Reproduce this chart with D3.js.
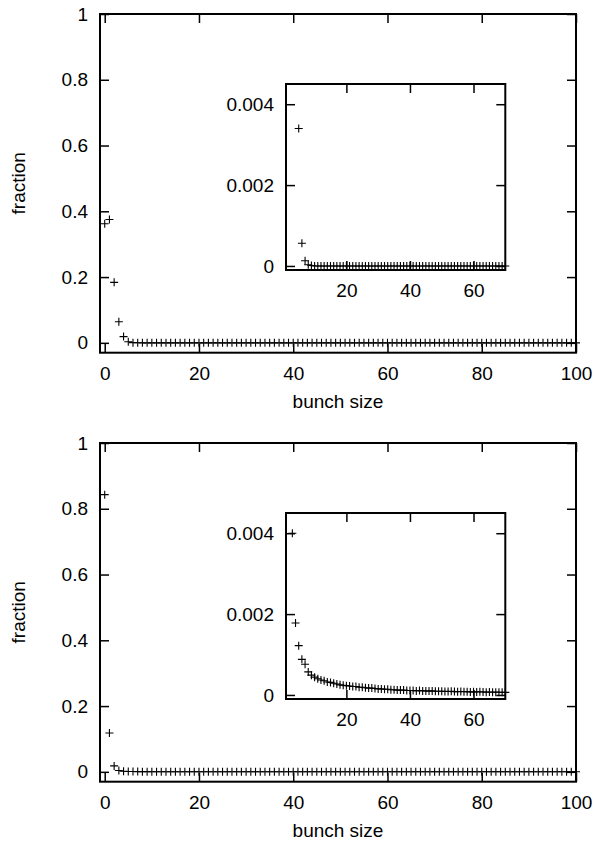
<!DOCTYPE html>
<html lang="en">
  <head>
    <meta charset="UTF-8" />
    <title>bunch size</title>
    <style>
      body { margin: 0; background: #fff; }
      svg text { font-family: "Liberation Sans", Arial, sans-serif; font-size: 19px; fill: #000; }
    </style>
  </head>
  <body>
    <svg id="svg" width="596" height="844"></svg>

    <script src="https://d3js.org/d3.v7.min.js"></script>
    <script>
      // fraction of bunches for bunch size 0..100 (index = bunch size)
      const topFraction = [
        0.362, 0.375, 0.184, 0.064, 0.019, 0.0034, 0.00056, 0.00013, 0.00003, 0.00001,
        0, 0, 0, 0, 0, 0, 0, 0, 0, 0,
        0, 0, 0, 0, 0, 0, 0, 0, 0, 0,
        0, 0, 0, 0, 0, 0, 0, 0, 0, 0,
        0, 0, 0, 0, 0, 0, 0, 0, 0, 0,
        0, 0, 0, 0, 0, 0, 0, 0, 0, 0,
        0, 0, 0, 0, 0, 0, 0, 0, 0, 0,
        0, 0, 0, 0, 0, 0, 0, 0, 0, 0,
        0, 0, 0, 0, 0, 0, 0, 0, 0, 0,
        0, 0, 0, 0, 0, 0, 0, 0, 0, 0,
        0
      ];
      const bottomFraction = [
        0.843, 0.118, 0.018, 0.0040, 0.00178, 0.00122, 0.00088, 0.00076, 0.00057, 0.00049,
        0.00044, 0.00040, 0.00037, 0.00035, 0.00032, 0.00031, 0.00029, 0.00027, 0.00025, 0.00024,
        0.00023, 0.00022, 0.00021, 0.00021, 0.00019, 0.00019, 0.00018, 0.00017, 0.00017, 0.00016,
        0.00015, 0.00015, 0.00014, 0.00014, 0.00013, 0.00013, 0.00012, 0.00012, 0.00012, 0.00011,
        0.00011, 0.00011, 0.00010, 0.00011, 0.00010, 0.00010, 0.000095, 0.00010, 0.000092, 0.000090,
        0.000092, 0.000088, 0.000085, 0.000090, 0.000083, 0.000080, 0.000084, 0.000078, 0.000080, 0.000076,
        0.000077, 0.000074, 0.000078, 0.000072, 0.000070, 0.000074, 0.000068, 0.000070, 0.000066, 0.000068,
        0.000065, 0.000064, 0.000066, 0.000062, 0.000060, 0.000063, 0.000058, 0.000060, 0.000057, 0.000059,
        0.000056, 0.000055, 0.000057, 0.000053, 0.000054, 0.000052, 0.000051, 0.000053, 0.000050, 0.000049,
        0.000050, 0.000048, 0.000047, 0.000049, 0.000046, 0.000045, 0.000046, 0.000044, 0.000043, 0.000044,
        0.000042
      ];

      const xTicksMain = [0, 20, 40, 60, 80, 100];
      const yTicksMain = [0, 0.2, 0.4, 0.6, 0.8, 1];
      const xTicksInset = [20, 40, 60];
      const yTicksInset = [0, 0.002, 0.004];

      const fmt = (d) => String(d);
      const plus = "M-4,0H4M0,-4V4";
      const svg = d3.select("#svg");

      function frameAxes(g, x, y, xt, yt) {
        const [x0, x1] = x.range();
        const [y0, y1] = y.range();
        const bottom = d3.axisBottom(x).tickValues(xt).tickSize(-9).tickPadding(14).tickFormat(fmt);
        const top = d3.axisTop(x).tickValues(xt).tickSize(-9).tickFormat("");
        const left = d3.axisLeft(y).tickValues(yt).tickSize(-9).tickPadding(12).tickFormat(fmt);
        const right = d3.axisRight(y).tickValues(yt).tickSize(-9).tickFormat("");

        const add = (axis, tr) =>
          g.append("g").attr("transform", tr).call(axis)
            .call((a) => a.select(".domain").remove())
            .call((a) => a.selectAll("line").attr("stroke-width", 1.5));

        add(bottom, `translate(0,${y0})`);
        add(top, `translate(0,${y1})`);
        add(left, `translate(${x0},0)`);
        add(right, `translate(${x1},0)`);

        g.append("rect")
          .attr("x", x0).attr("y", y1)
          .attr("width", x1 - x0).attr("height", y0 - y1)
          .attr("fill", "none").attr("stroke", "#000").attr("stroke-width", 2);
      }

      function drawPoints(g, x, y, values) {
        const [xa, xb] = x.domain();
        const [ya, yb] = y.domain();
        const pts = values
          .map((v, i) => ({ s: i, v: v }))
          .filter((d) => d.s >= xa && d.s <= xb && d.v >= ya && d.v <= yb);
        g.append("g")
          .selectAll("path")
          .data(pts)
          .enter()
          .append("path")
          .attr("d", plus)
          .attr("transform", (d) => `translate(${x(d.s)},${y(d.v)})`)
          .attr("fill", "none")
          .attr("stroke", "#000")
          .attr("stroke-width", 1.1);
      }

      function panel(values, dy) {
        const g = svg.append("g").attr("transform", `translate(0,${dy})`);

        const x = d3.scaleLinear().domain([-1, 100]).range([100, 576]);
        const y = d3.scaleLinear().domain([-0.03, 1]).range([352.7, 14]);
        drawPoints(g, x, y, values);
        frameAxes(g, x, y, xTicksMain, yTicksMain);

        // inset zoom on the small fractions
        const xi = d3.scaleLinear().domain([1, 70]).range([286, 505.3]);
        const yi = d3.scaleLinear().domain([-0.0001, 0.0045]).range([270, 84]);
        g.append("rect").attr("x", 286).attr("y", 84).attr("width", 219.3).attr("height", 186)
          .attr("fill", "#fff");
        drawPoints(g, xi, yi, values);
        frameAxes(g, xi, yi, xTicksInset, yTicksInset);

        g.append("text")
          .attr("x", 338).attr("y", 407.5)
          .attr("text-anchor", "middle")
          .text("bunch size");
        g.append("text")
          .attr("transform", "translate(25,183.3) rotate(-90)")
          .attr("text-anchor", "middle")
          .text("fraction");
      }

      panel(topFraction, 0);
      panel(bottomFraction, 429);
    </script>
  </body>
</html>
